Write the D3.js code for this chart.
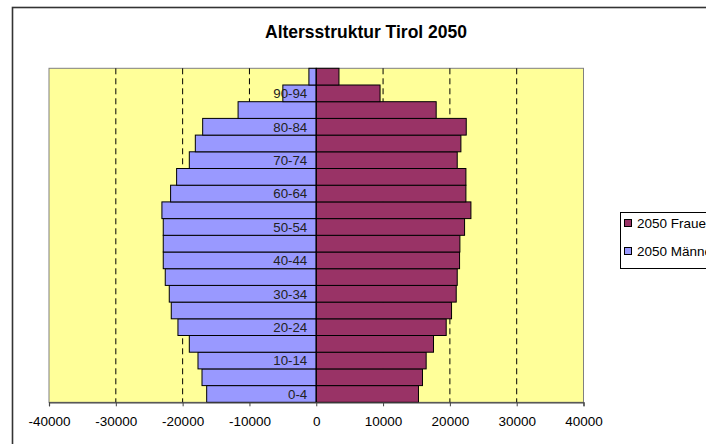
<!DOCTYPE html>
<html>
<head>
<meta charset="utf-8">
<script src="https://cdn.jsdelivr.net/npm/d3@7"></script>
<style>
  body { margin: 0; background: #fff; }
  svg { display: block; font-family: "Liberation Sans", Arial, sans-serif; }
</style>
</head>
<body>
<svg id="chart" width="706" height="444"></svg>
<script>
// age groups, bottom to top
var ageGroups = ["0-4", "5-9", "10-14", "15-19", "20-24", "25-29", "30-34", "35-39", "40-44", "45-49",
                 "50-54", "55-59", "60-64", "65-69", "70-74", "75-79", "80-84", "85-89", "90-94", "95+"];
// only every other group gets a label
var shownLabels = ["0-4", "10-14", "20-24", "30-34", "40-44", "50-54", "60-64", "70-74", "80-84", "90-94"];
// men are drawn to the left (negative values)
var maenner = [-16400, -17100, -17700, -19000, -20700, -21700, -22000, -22600, -22900, -22900,
               -22900, -23100, -21800, -20900, -19000, -18100, -17000, -11700, -5000, -1100];
var frauen = [15300, 15900, 16450, 17550, 19450, 20250, 20950, 21100, 21450, 21500,
              22200, 23150, 22400, 22400, 21100, 21650, 22450, 17950, 9550, 3400];
var xTicks = [-40000, -30000, -20000, -10000, 0, 10000, 20000, 30000, 40000];
var gridTicks = [-30000, -20000, -10000, 10000, 20000, 30000];
var legendItems = [{name: "2050 Frauen", color: "#993366"}, {name: "2050 Männer", color: "#9999FF"}];

var svg = d3.select("#chart");

var plot = {left: 49, right: 583.5, top: 68.3, bottom: 402.3};

// outer chart frame (runs off the right/bottom edge like the original)
svg.append("rect")
    .attr("x", 12.5).attr("y", 7.5)
    .attr("width", 720).attr("height", 460)
    .attr("fill", "#fff")
    .attr("stroke", "#333").attr("stroke-width", 1.6);

svg.append("text")
    .attr("x", 366).attr("y", 38)
    .attr("text-anchor", "middle")
    .style("font-size", "17.5px").style("font-weight", "bold")
    .text("Altersstruktur Tirol 2050");

var x = d3.scaleLinear().domain([-40000, 40000]).range([plot.left, plot.right]);
var y = d3.scaleBand().domain(ageGroups.slice().reverse()).range([plot.top, plot.bottom]).padding(0);

// plot background
svg.append("rect")
    .attr("x", plot.left).attr("y", plot.top)
    .attr("width", plot.right - plot.left).attr("height", plot.bottom - plot.top)
    .attr("fill", "#FFFF99")
    .attr("stroke", "#808080").attr("stroke-width", 1);

// dashed grid
svg.selectAll(".grid")
    .data(gridTicks)
    .enter().append("line")
    .attr("class", "grid")
    .attr("x1", function (d) { return x(d); })
    .attr("x2", function (d) { return x(d); })
    .attr("y1", plot.top).attr("y2", plot.bottom)
    .attr("stroke", "#000").attr("stroke-width", 1)
    .attr("stroke-dasharray", "6,4");

// bars
svg.selectAll(".men")
    .data(ageGroups)
    .enter().append("rect")
    .attr("class", "men")
    .attr("x", function (d, i) { return x(maenner[i]); })
    .attr("y", function (d) { return y(d); })
    .attr("width", function (d, i) { return x(0) - x(maenner[i]); })
    .attr("height", y.bandwidth())
    .attr("fill", "#9999FF").attr("stroke", "#000").attr("stroke-width", 1);

svg.selectAll(".women")
    .data(ageGroups)
    .enter().append("rect")
    .attr("class", "women")
    .attr("x", x(0))
    .attr("y", function (d) { return y(d); })
    .attr("width", function (d, i) { return x(frauen[i]) - x(0); })
    .attr("height", y.bandwidth())
    .attr("fill", "#993366").attr("stroke", "#000").attr("stroke-width", 1);

// category axis at zero
svg.append("line")
    .attr("x1", x(0)).attr("x2", x(0))
    .attr("y1", plot.top).attr("y2", plot.bottom)
    .attr("stroke", "#000").attr("stroke-width", 1);

svg.selectAll(".agelabel")
    .data(shownLabels)
    .enter().append("text")
    .attr("class", "agelabel")
    .attr("x", x(0) - 9)
    .attr("y", function (d) { return y(d) + y.bandwidth() / 2; })
    .attr("dy", "0.36em")
    .attr("text-anchor", "end")
    .attr("fill", "#222")
    .style("font-size", "13.3px")
    .text(function (d) { return d; });

// value axis
var xAxis = d3.axisBottom(x).tickValues(xTicks).tickSize(4).tickPadding(10)
    .tickFormat(function (d) { return String(d); });
var gx = svg.append("g")
    .attr("transform", "translate(0," + plot.bottom + ")")
    .call(xAxis);
gx.select(".domain").attr("stroke", "#444").attr("stroke-width", 1.2);
gx.selectAll(".tick line").attr("stroke", "#444");
gx.selectAll("text").style("font-size", "13.5px").attr("fill", "#000")
    .style("font-family", "'Liberation Sans', Arial, sans-serif");

// legend (cut off by the right edge, as in the original picture)
var legend = svg.append("g");
legend.append("rect")
    .attr("x", 620.5).attr("y", 212.5)
    .attr("width", 120).attr("height", 56)
    .attr("fill", "#fff").attr("stroke", "#000").attr("stroke-width", 1);
var li = legend.selectAll(".item")
    .data(legendItems)
    .enter().append("g")
    .attr("class", "item")
    .attr("transform", function (d, i) { return "translate(624," + (223 + i * 28) + ")"; });
li.append("rect")
    .attr("x", 0.5).attr("y", -3.5)
    .attr("width", 7).attr("height", 7)
    .attr("fill", function (d) { return d.color; })
    .attr("stroke", "#000").attr("stroke-width", 1);
li.append("text")
    .attr("x", 13).attr("y", 0).attr("dy", "0.36em")
    .style("font-size", "13.5px")
    .text(function (d) { return d.name; });
</script>
</body>
</html>
